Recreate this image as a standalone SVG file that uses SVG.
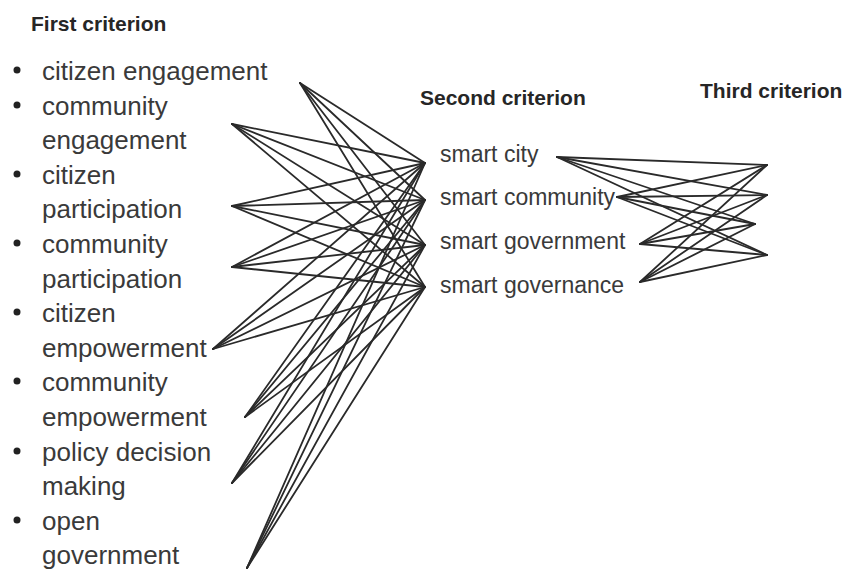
<svg xmlns="http://www.w3.org/2000/svg" width="849" height="570" viewBox="0 0 849 570">
  <style>
    .hdr { font-family: "Liberation Sans", Arial, sans-serif; font-weight: bold; font-size: 21px; fill: #262626; }
    .item { font-family: "Liberation Sans", Arial, sans-serif; font-size: 26px; fill: #3a3a3a; }
    .mid { font-family: "Liberation Sans", Arial, sans-serif; font-size: 23px; fill: #3a3a3a; }
    .bullet { fill: #222; }
    .conn line { stroke: #2a2a2a; stroke-width: 1.8; stroke-linecap: round; }
  </style>
  <rect width="849" height="570" fill="#fff"/>

  <!-- column headings -->
  <g id="heading-first"><text class="hdr" x="31" y="31">First criterion</text></g>
  <g id="heading-second"><text class="hdr" x="420" y="105">Second criterion</text></g>
  <g id="heading-third"><text class="hdr" x="700" y="98">Third criterion</text></g>

  <!-- first criterion list -->
  <g id="citizen-engagement">
    <circle class="bullet" cx="17" cy="70" r="3.5"/>
    <text class="item" x="42" y="80">citizen engagement</text>
  </g>
  <g id="community-engagement">
    <circle class="bullet" cx="17" cy="105" r="3.5"/>
    <text class="item" x="42" y="115">community</text>
    <text class="item" x="42" y="149">engagement</text>
  </g>
  <g id="citizen-participation">
    <circle class="bullet" cx="17" cy="174" r="3.5"/>
    <text class="item" x="42" y="184">citizen</text>
    <text class="item" x="42" y="218">participation</text>
  </g>
  <g id="community-participation">
    <circle class="bullet" cx="17" cy="243" r="3.5"/>
    <text class="item" x="42" y="253">community</text>
    <text class="item" x="42" y="288">participation</text>
  </g>
  <g id="citizen-empowerment">
    <circle class="bullet" cx="17" cy="312" r="3.5"/>
    <text class="item" x="42" y="322">citizen</text>
    <text class="item" x="42" y="357">empowerment</text>
  </g>
  <g id="community-empowerment">
    <circle class="bullet" cx="17" cy="381" r="3.5"/>
    <text class="item" x="42" y="391">community</text>
    <text class="item" x="42" y="426">empowerment</text>
  </g>
  <g id="policy-decision-making">
    <circle class="bullet" cx="17" cy="451" r="3.5"/>
    <text class="item" x="42" y="461">policy decision</text>
    <text class="item" x="42" y="495">making</text>
  </g>
  <g id="open-government">
    <circle class="bullet" cx="17" cy="520" r="3.5"/>
    <text class="item" x="42" y="530">open</text>
    <text class="item" x="42" y="564">government</text>
  </g>

  <!-- second criterion -->
  <g id="smart-city"><text class="mid" x="440" y="162">smart city</text></g>
  <g id="smart-community"><text class="mid" x="440" y="205">smart community</text></g>
  <g id="smart-government"><text class="mid" x="440" y="249">smart government</text></g>
  <g id="smart-governance"><text class="mid" x="440" y="293">smart governance</text></g>

  <!-- connectors -->
  <g id="connectors" class="conn">
    <!-- first to second criterion -->
    <line x1="300" y1="83" x2="425" y2="163"/>
    <line x1="300" y1="83" x2="425" y2="200"/>
    <line x1="300" y1="83" x2="425" y2="245"/>
    <line x1="300" y1="83" x2="425" y2="287"/>
    <line x1="232" y1="124" x2="425" y2="163"/>
    <line x1="232" y1="124" x2="425" y2="200"/>
    <line x1="232" y1="124" x2="425" y2="245"/>
    <line x1="232" y1="124" x2="425" y2="287"/>
    <line x1="232" y1="206" x2="425" y2="163"/>
    <line x1="232" y1="206" x2="425" y2="200"/>
    <line x1="232" y1="206" x2="425" y2="245"/>
    <line x1="232" y1="206" x2="425" y2="287"/>
    <line x1="232" y1="267" x2="425" y2="163"/>
    <line x1="232" y1="267" x2="425" y2="200"/>
    <line x1="232" y1="267" x2="425" y2="245"/>
    <line x1="232" y1="267" x2="425" y2="287"/>
    <line x1="213" y1="349" x2="425" y2="163"/>
    <line x1="213" y1="349" x2="425" y2="200"/>
    <line x1="213" y1="349" x2="425" y2="245"/>
    <line x1="213" y1="349" x2="425" y2="287"/>
    <line x1="245" y1="417" x2="425" y2="163"/>
    <line x1="245" y1="417" x2="425" y2="200"/>
    <line x1="245" y1="417" x2="425" y2="245"/>
    <line x1="245" y1="417" x2="425" y2="287"/>
    <line x1="232" y1="483" x2="425" y2="163"/>
    <line x1="232" y1="483" x2="425" y2="200"/>
    <line x1="232" y1="483" x2="425" y2="245"/>
    <line x1="232" y1="483" x2="425" y2="287"/>
    <line x1="247" y1="568" x2="425" y2="163"/>
    <line x1="247" y1="568" x2="425" y2="200"/>
    <line x1="247" y1="568" x2="425" y2="245"/>
    <line x1="247" y1="568" x2="425" y2="287"/>
    <!-- second to third criterion -->
    <line x1="557" y1="157" x2="767" y2="165"/>
    <line x1="557" y1="157" x2="767" y2="195"/>
    <line x1="557" y1="157" x2="755" y2="224"/>
    <line x1="557" y1="157" x2="767" y2="255"/>
    <line x1="617" y1="197" x2="767" y2="165"/>
    <line x1="617" y1="197" x2="767" y2="195"/>
    <line x1="617" y1="197" x2="755" y2="224"/>
    <line x1="617" y1="197" x2="767" y2="255"/>
    <line x1="640" y1="244" x2="767" y2="165"/>
    <line x1="640" y1="244" x2="767" y2="195"/>
    <line x1="640" y1="244" x2="755" y2="224"/>
    <line x1="640" y1="244" x2="767" y2="255"/>
    <line x1="640" y1="282" x2="767" y2="165"/>
    <line x1="640" y1="282" x2="767" y2="195"/>
    <line x1="640" y1="282" x2="755" y2="224"/>
    <line x1="640" y1="282" x2="767" y2="255"/>
  </g>
</svg>
